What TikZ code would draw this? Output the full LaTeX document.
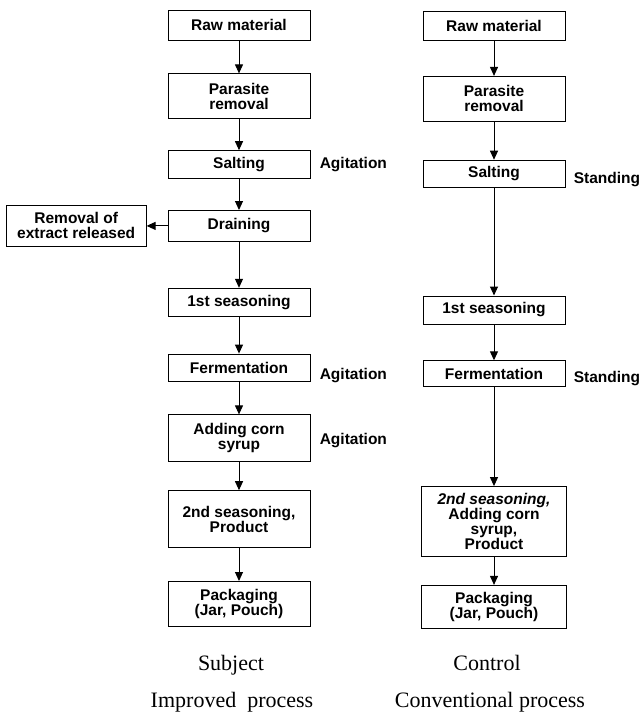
\documentclass[tikz,border=0pt]{standalone}
\usepackage{fontspec}
\setmainfont{Liberation Sans}
\newfontfamily\capfont{Liberation Serif}
\usetikzlibrary{positioning,calc,arrows.meta}

\begin{document}
\begin{tikzpicture}[
    x=1pt,y=1pt,
    every node/.style={draw,line width=0.8pt,align=center,minimum width=142pt,inner sep=2pt,
      font=\fontsize{15.5}{15}\selectfont\bfseries},
    >={Triangle[length=9pt,width=8pt]}
  ]
  \useasboundingbox (0,0) rectangle (639,-715);

  % improved process
  \node[minimum height=30pt] at (239,-25)          (impr1) {Raw material};
  \node[below=33pt of impr1,minimum height=45pt]   (impr2) {Parasite\\removal};
  \node[below=31pt of impr2,minimum height=28pt]   (impr3) {Salting};
  \node[below=31pt of impr3,minimum height=31pt]   (impr4) {Draining};
  \node[below=46pt of impr4,minimum height=28pt]   (impr5) {1st seasoning};
  \node[below=37pt of impr5,minimum height=27pt]   (impr6) {Fermentation};
  \node[below=33pt of impr6,minimum height=47pt]   (impr7) {Adding corn\\syrup};
  \node[below=28pt of impr7,minimum height=57pt]   (impr8) {2nd seasoning,\\Product};
  \node[below=33pt of impr8,minimum height=45pt]   (impr9) {Packaging\\(Jar, Pouch)};
  \node[left=21pt of impr4,minimum width=140pt,minimum height=41pt] (drip) {Removal of\\extract released};

  \draw[->,line width=1pt] (impr1) -- (impr2);
  \draw[->,line width=1pt] (impr2) -- (impr3);
  \draw[->,line width=1pt] (impr3) -- (impr4);
  \draw[->,line width=1pt] (impr4) -- (impr5);
  \draw[->,line width=1pt] (impr5) -- (impr6);
  \draw[->,line width=1pt] (impr6) -- (impr7);
  \draw[->,line width=1pt] (impr7) -- (impr8);
  \draw[->,line width=1pt] (impr8) -- (impr9);
  \draw[->,line width=1pt] (impr4.west) -- (impr4.west -| drip.east);

  \node[draw=none,minimum width=0pt,anchor=west] at ($(impr3.east)+(7,0)$)  (agit1) {Agitation};
  \node[draw=none,minimum width=0pt,anchor=west] at ($(impr6.east)+(7,-8)$) (agit2) {Agitation};
  \node[draw=none,minimum width=0pt,anchor=west] at ($(impr7.east)+(7,-2)$) (agit3) {Agitation};

  % conventional process
  \node[minimum height=29pt] at (494,-26)          (conv1) {Raw material};
  \node[below=35pt of conv1,minimum height=45pt]   (conv2) {Parasite\\removal};
  \node[below=38pt of conv2,minimum height=27pt]   (conv3) {Salting};
  \node[below=108pt of conv3,minimum height=28pt]  (conv4) {1st seasoning};
  \node[below=36pt of conv4,minimum height=26pt]   (conv5) {Fermentation};
  \node[below=99pt of conv5,minimum width=145pt,minimum height=70pt] (conv6) {\itshape 2nd seasoning,\\Adding corn\\syrup,\\Product};
  \node[below=28pt of conv6,minimum width=145pt,minimum height=43pt] (conv7) {Packaging\\(Jar, Pouch)};

  \draw[->,line width=1pt] (conv1) -- (conv2);
  \draw[->,line width=1pt] (conv2) -- (conv3);
  \draw[->,line width=1pt] (conv3) -- (conv4);
  \draw[->,line width=1pt] (conv4) -- (conv5);
  \draw[->,line width=1pt] (conv5) -- (conv6);
  \draw[->,line width=1pt] (conv6) -- (conv7);

  \node[draw=none,minimum width=0pt,anchor=west] at ($(conv3.east)+(6,-6)$) (stand1) {Standing};
  \node[draw=none,minimum width=0pt,anchor=west] at ($(conv5.east)+(6,-5)$) (stand2) {Standing};

  \node[draw=none,minimum width=0pt,anchor=base,font=\capfont\fontsize{22}{22}\selectfont] at (231,-670) (cap1) {Subject};
  \node[draw=none,minimum width=0pt,anchor=base,font=\capfont\fontsize{22}{22}\selectfont] at (232,-707) (cap2) {Improved\hspace{0.5em}process};
  \node[draw=none,minimum width=0pt,anchor=base,font=\capfont\fontsize{22}{22}\selectfont] at (487,-670) (cap3) {Control};
  \node[draw=none,minimum width=0pt,anchor=base,font=\capfont\fontsize{22}{22}\selectfont] at (490,-707) (cap4) {Conventional process};
\end{tikzpicture}
\end{document}
